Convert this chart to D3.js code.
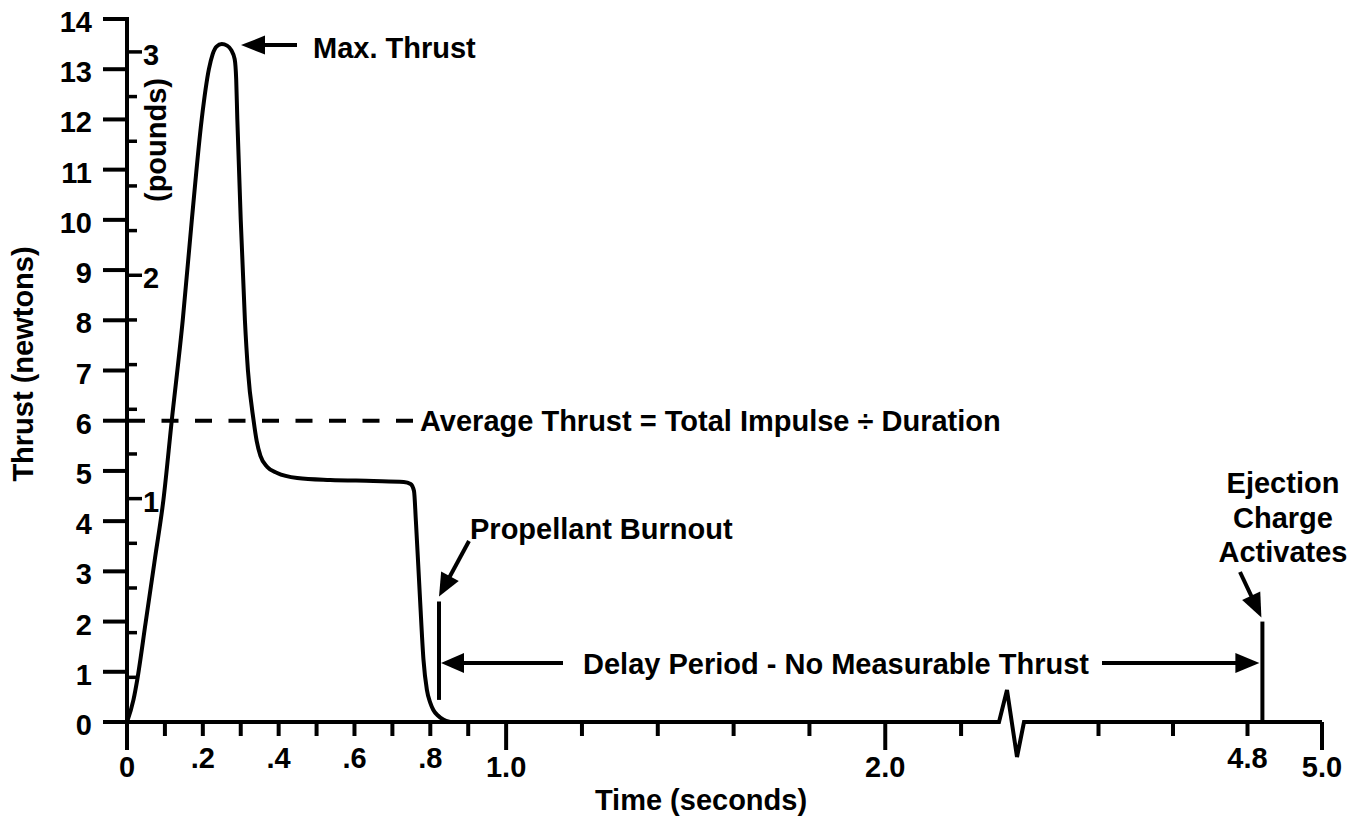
<!DOCTYPE html>
<html>
<head>
<meta charset="utf-8">
<script src="https://cdn.jsdelivr.net/npm/d3@7"></script>
<style>
  body { margin: 0; background: #fff; }
  text { font-family: "Liberation Sans", Arial, Helvetica, sans-serif; font-weight: bold; font-size: 29px; fill: #000; }
</style>
</head>
<body>
<svg id="chart" width="1356" height="816"></svg>
<script>
// Thrust curve of a model rocket motor (time in seconds, thrust in newtons)
const timeSeconds = [0, 0.017, 0.027, 0.049, 0.074, 0.096, 0.118, 0.147, 0.171, 0.197, 0.216, 0.226, 0.236, 0.25,
  0.264, 0.275, 0.284, 0.288, 0.291, 0.3, 0.311, 0.319, 0.334, 0.342, 0.352, 0.37, 0.396, 0.449, 0.536, 0.65,
  0.73, 0.748, 0.757, 0.762, 0.773, 0.782, 0.791, 0.8, 0.808, 0.82, 0.834, 0.852];
const thrustNewtons = [0, 0.44, 0.84, 1.97, 3.27, 4.42, 6.0, 8.0, 10.0, 12.0, 13.0, 13.3, 13.45, 13.5,
  13.47, 13.38, 13.2, 12.8, 12.0, 10.0, 8.0, 7.0, 6.0, 5.6, 5.3, 5.08, 4.96, 4.86, 4.82, 4.8,
  4.78, 4.74, 4.6, 4.0, 2.43, 1.24, 0.64, 0.38, 0.24, 0.13, 0.05, 0];

// Axis ticks
const newtonTicks = [0, 1, 2, 3, 4, 5, 6, 7, 8, 9, 10, 11, 12, 13, 14];
const poundTicks = [0, 0.2, 0.4, 0.6, 0.8, 1, 1.2, 1.4, 1.6, 1.8, 2, 2.2, 2.4, 2.6, 2.8, 3];
const poundLabels = [1, 2, 3];
const timeMinorTicks = [0.1, 0.2, 0.3, 0.4, 0.5, 0.6, 0.7, 0.8, 0.9, 1.2, 1.4, 1.6, 1.8, 2.2, 4.4, 4.6, 4.8];
const timeMajorTicks = [0, 1, 2, 5];
const timeLabelValues = [0, 0.2, 0.4, 0.6, 0.8, 1, 2, 4.8, 5];
const timeLabelText = ["0", ".2", ".4", ".6", ".8", "1.0", "2.0", "4.8", "5.0"];
const axisBreak = [2.3, 4.2];

// Key events
const averageThrust = 6;
const burnoutTime = 0.823;
const ejectionTime = 4.84;
const NEWTONS_PER_POUND = 4.44822;
const ejectionLines = ["Ejection", "Charge", "Activates"];

const svg = d3.select("#chart");

// Time axis is linear but squeezed across the break between 2.3 s and 4.2 s
const x = d3.scaleLinear().domain([0, axisBreak[0], axisBreak[1], 5]).range([127, 999, 1024, 1322]);
const y = d3.scaleLinear().domain([0, 14]).range([722, 19]);
const yLb = d3.scaleLinear().domain([0, 14 / NEWTONS_PER_POUND]).range([722, 19]);
const y0 = y(0);

const ink = "#000";

// ---- Y axis (newtons on the left, pounds on the right of the spine)
const yAxis = svg.append("g");
yAxis.append("line").attr("x1", x(0)).attr("x2", x(0))
  .attr("y1", y(14) - 2).attr("y2", y0 + 28)
  .attr("stroke", ink).attr("stroke-width", 4);
yAxis.selectAll("line.nt").data(newtonTicks).join("line").attr("class", "nt")
  .attr("x1", x(0) - 24).attr("x2", x(0)).attr("y1", d => y(d)).attr("y2", d => y(d))
  .attr("stroke", ink).attr("stroke-width", 4);
yAxis.selectAll("text.nl").data(newtonTicks).join("text").attr("class", "nl")
  .attr("x", 92).attr("y", d => y(d) + 13).attr("text-anchor", "end").text(d => d);
yAxis.selectAll("line.pt").data(poundTicks.filter(d => d > 0)).join("line").attr("class", "pt")
  .attr("x1", x(0)).attr("x2", d => x(0) + (poundLabels.includes(d) ? 15 : 10))
  .attr("y1", d => yLb(d)).attr("y2", d => yLb(d))
  .attr("stroke", ink).attr("stroke-width", 3.5);
yAxis.selectAll("text.pl").data(poundLabels).join("text").attr("class", "pl")
  .attr("x", x(0) + 16).attr("y", d => yLb(d) + 13).text(d => d);

svg.append("text").attr("transform", "translate(33,364) rotate(-90)")
  .attr("text-anchor", "middle").text("Thrust (newtons)");
svg.append("text").attr("transform", "translate(166,140) rotate(-90)")
  .attr("text-anchor", "middle").text("(pounds)");

// ---- X axis with zig-zag break
const bx0 = x(axisBreak[0]), bx1 = x(axisBreak[1]);
const axisPts = [[x(0), y0], [bx0, y0], [bx0 + 8, y0 - 32], [bx0 + 18, y0 + 35], [bx1, y0], [x(5), y0]];
svg.append("path").attr("d", d3.line()(axisPts))
  .attr("fill", "none").attr("stroke", ink).attr("stroke-width", 4).attr("stroke-linejoin", "miter");
svg.selectAll("line.tm").data(timeMinorTicks).join("line").attr("class", "tm")
  .attr("x1", d => x(d)).attr("x2", d => x(d)).attr("y1", y0).attr("y2", y0 + 14)
  .attr("stroke", ink).attr("stroke-width", 4);
svg.selectAll("line.tM").data(timeMajorTicks).join("line").attr("class", "tM")
  .attr("x1", d => x(d)).attr("x2", d => x(d)).attr("y1", y0).attr("y2", y0 + 28)
  .attr("stroke", ink).attr("stroke-width", 4);
svg.selectAll("text.tl").data(timeLabelValues).join("text").attr("class", "tl")
  .attr("x", d => x(d)).attr("y", d => y0 + (timeMajorTicks.includes(d) ? 55 : 46))
  .attr("text-anchor", "middle").text((d, i) => timeLabelText[i]);
svg.append("text").attr("x", 701).attr("y", 810).attr("text-anchor", "middle").text("Time (seconds)");

// ---- Thrust curve
const curve = d3.line().x(d => x(d[0])).y(d => y(d[1])).curve(d3.curveMonotoneX);
svg.append("path").attr("d", curve(timeSeconds.map((t, i) => [t, thrustNewtons[i]])))
  .attr("fill", "none").attr("stroke", ink).attr("stroke-width", 4)
  .attr("stroke-linejoin", "round").attr("stroke-linecap", "round");

// ---- Annotations
function arrow(x1, y1, x2, y2, L, W) {
  const dx = x2 - x1, dy = y2 - y1, len = Math.hypot(dx, dy), ux = dx / len, uy = dy / len;
  const bx = x2 - ux * L, by = y2 - uy * L;
  svg.append("line").attr("x1", x1).attr("y1", y1).attr("x2", bx + ux * 2).attr("y2", by + uy * 2)
    .attr("stroke", ink).attr("stroke-width", 4);
  svg.append("path").attr("d", `M${x2},${y2}L${bx - uy * W},${by + ux * W}L${bx + uy * W},${by - ux * W}Z`)
    .attr("fill", ink);
}

// Max thrust
const maxThrust = d3.max(thrustNewtons);
const peakY = y(maxThrust) + 1;
arrow(297, peakY, 241, peakY, 24, 9.5);
svg.append("text").attr("x", 313).attr("y", peakY + 13).text("Max. Thrust");

// Average thrust
svg.append("line").attr("x1", x(0) + 1).attr("x2", 413).attr("y1", y(averageThrust)).attr("y2", y(averageThrust))
  .attr("stroke", ink).attr("stroke-width", 4).attr("stroke-dasharray", "17 16.5");
svg.append("text").attr("x", 420).attr("y", y(averageThrust) + 10)
  .text("Average Thrust = Total Impulse \u00F7 Duration");

// Propellant burnout
const xb = x(burnoutTime);
svg.append("line").attr("x1", xb).attr("x2", xb).attr("y1", y(2.4)).attr("y2", y(0.44))
  .attr("stroke", ink).attr("stroke-width", 4);
arrow(469, 541, xb, y(2.4) - 5, 23, 10);
svg.append("text").attr("x", 470).attr("y", 539).text("Propellant Burnout");

// Ejection charge
const xe = x(ejectionTime);
svg.append("line").attr("x1", xe).attr("x2", xe).attr("y1", y(2.0)).attr("y2", y0)
  .attr("stroke", ink).attr("stroke-width", 4);
arrow(1240, 572, xe - 1, y(2.0) - 4, 24, 10);
svg.selectAll("text.ej").data(ejectionLines).join("text").attr("class", "ej")
  .attr("x", 1283).attr("y", (d, i) => 493 + i * 34.5)
  .attr("text-anchor", "middle").text(d => d);

// Delay period
const yd = 663;
arrow(563, yd, xb + 2, yd, 23, 10);
arrow(1102, yd, xe - 3, yd, 24, 10);
svg.append("text").attr("x", 583).attr("y", yd + 11).text("Delay Period - No Measurable Thrust");
</script>
</body>
</html>
